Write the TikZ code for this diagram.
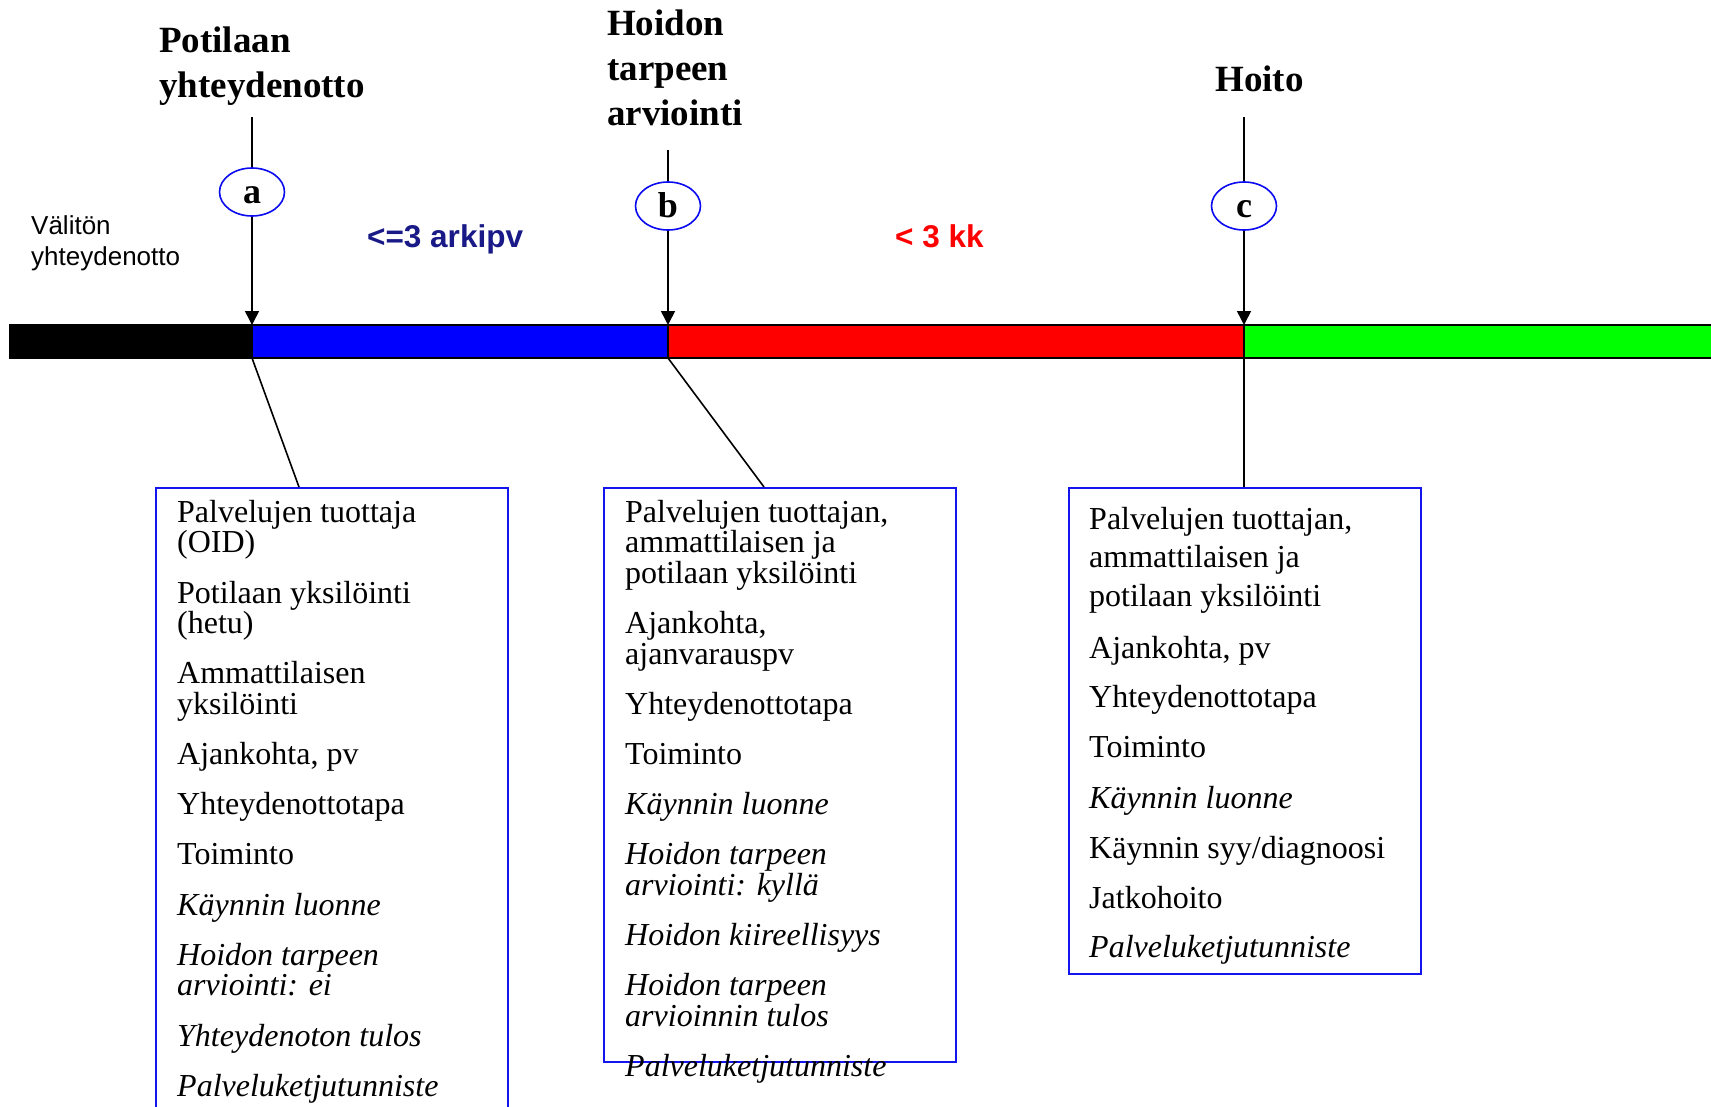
\documentclass[tikz,border=0pt]{standalone}
\usepackage{fontspec}
\setmainfont{Liberation Serif}
\setsansfont{Liberation Sans}
\usetikzlibrary{arrows.meta,shapes.geometric}

\definecolor{phaseblack}{RGB}{0,0,0}
\definecolor{phaseblue}{RGB}{0,0,255}
\definecolor{phasered}{RGB}{255,0,0}
\definecolor{phasegreen}{RGB}{0,255,0}
\definecolor{ringblue}{RGB}{10,10,240}
\definecolor{framblue}{RGB}{20,20,240}
\definecolor{navytext}{RGB}{25,25,135}

\tikzset{
  barpart/.style={draw=black, line width=2.6pt},
  headline/.style={anchor=base west, inner sep=0pt, font=\fontsize{37}{45}\selectfont\bfseries},
  letterring/.style={ellipse, draw=ringblue, line width=1.6pt, minimum width=65pt,
    minimum height=48pt, inner sep=0pt, text height=22pt, text depth=0pt,
    font=\fontsize{36}{36}\selectfont\bfseries},
  stem/.style={line width=1.6pt},
  stemarrow/.style={line width=1.6pt, -{Triangle[width=14pt,length=14pt]}},
  infobox/.style={draw=framblue, line width=2.4pt, anchor=north west, inner sep=0pt,
    minimum width=352pt},
  boxline/.style={anchor=base west, inner sep=0pt, font=\fontsize{32}{32}\selectfont},
  sidenote/.style={anchor=base west, inner sep=0pt, font=\sffamily\fontsize{26}{29}\selectfont},
  spanlabel/.style={anchor=base west, inner sep=0pt, font=\sffamily\bfseries\fontsize{31.5}{31.5}\selectfont}
}

\begin{document}
\begin{tikzpicture}[x=1pt,y=-1pt]
\useasboundingbox (0,0) rectangle (1711,1106);
\fill[white] (0,0) rectangle (1711,1106);

% timeline bar
\filldraw[barpart, fill=phaseblack] (10,325) rectangle (252,358);
\filldraw[barpart, fill=phaseblue] (252,325) rectangle (668,358);
\filldraw[barpart, fill=phasered] (668,325) rectangle (1244,358);
\filldraw[barpart, fill=phasegreen] (1244,325) rectangle (1725,358);

\coordinate (pa) at (252,325);
\coordinate (pb) at (668,325);
\coordinate (pc) at (1244,325);
\coordinate (qa) at (252,358);
\coordinate (qb) at (668,358);
\coordinate (qc) at (1244,358);

% headings
\node[headline] (ha1) at (159,52) {Potilaan};
\node[headline] (ha2) at (159,97) {yhteydenotto};
\node[headline] (hb1) at (607,35) {Hoidon};
\node[headline] (hb2) at (607,80) {tarpeen};
\node[headline] (hb3) at (607,125) {arviointi};
\node[headline] (hc1) at (1215,91) {Hoito};

% stems with lettered markers
\coordinate (ta) at (252,117);
\coordinate (tb) at (668,150);
\coordinate (tc) at (1244,117);
\node[letterring] (ca) at (252,192) {a};
\node[letterring] (cb) at (668,206) {b};
\node[letterring] (cc) at (1244,206) {c};
\draw[stem] (ta) -- (ca);
\draw[stem] (tb) -- (cb);
\draw[stem] (tc) -- (cc);
\draw[stemarrow] (ca) -- (pa);
\draw[stemarrow] (cb) -- (pb);
\draw[stemarrow] (cc) -- (pc);

% side labels
\node[sidenote] (v1) at (31,234) {Välitön};
\node[sidenote] (v2) at (31,265) {yhteydenotto};
\node[spanlabel, text=navytext] (s1) at (367,247) {<=3 arkipv};
\node[spanlabel, text=phasered] (s2) at (895,247) {< 3 kk};

% information boxes
\node[infobox, minimum height=640pt] (box1) at (155,487) {};
\node[infobox, minimum height=574pt] (box2) at (603,487) {};
\node[infobox, minimum height=486pt] (box3) at (1068,487) {};

\coordinate (ea) at (299,487);
\coordinate (eb) at (764,487);
\coordinate (ec) at (1244,487);
\draw[stem] (qa) -- (ea);
\draw[stem] (qb) -- (eb);
\draw[stem] (qc) -- (ec);

% box 1 contents
\node[boxline] (a01) at (177,522) {Palvelujen tuottaja};
\node[boxline] (a02) at (177,552) {(OID)};
\node[boxline] (a03) at (177,603) {Potilaan yksilöinti};
\node[boxline] (a04) at (177,633) {(hetu)};
\node[boxline] (a05) at (177,683) {Ammattilaisen};
\node[boxline] (a06) at (177,714) {yksilöinti};
\node[boxline] (a07) at (177,764) {Ajankohta, pv};
\node[boxline] (a08) at (177,814) {Yhteydenottotapa};
\node[boxline] (a09) at (177,864) {Toiminto};
\node[boxline] (a10) at (177,915) {\itshape Käynnin luonne};
\node[boxline] (a11) at (177,965) {\itshape Hoidon tarpeen};
\node[boxline] (a12) at (177,995) {\itshape arviointi: ei};
\node[boxline] (a13) at (177,1046) {\itshape Yhteydenoton tulos};
\node[boxline] (a14) at (177,1096) {\itshape Palveluketjutunniste};

% box 2 contents
\node[boxline] (b01) at (625,522) {Palvelujen tuottajan,};
\node[boxline] (b02) at (625,552) {ammattilaisen ja};
\node[boxline] (b03) at (625,583) {potilaan yksilöinti};
\node[boxline] (b04) at (625,633) {Ajankohta,};
\node[boxline] (b05) at (625,664) {ajanvarauspv};
\node[boxline] (b06) at (625,714) {Yhteydenottotapa};
\node[boxline] (b07) at (625,764) {Toiminto};
\node[boxline] (b08) at (625,814) {\itshape Käynnin luonne};
\node[boxline] (b09) at (625,864) {\itshape Hoidon tarpeen};
\node[boxline] (b10) at (625,895) {\itshape arviointi: kyllä};
\node[boxline] (b11) at (625,945) {\itshape Hoidon kiireellisyys};
\node[boxline] (b12) at (625,995) {\itshape Hoidon tarpeen};
\node[boxline] (b13) at (625,1026) {\itshape arvioinnin tulos};
\node[boxline] (b14) at (625,1076) {\itshape Palveluketjutunniste};

% box 3 contents
\node[boxline] (c01) at (1089,529) {Palvelujen tuottajan,};
\node[boxline] (c02) at (1089,567) {ammattilaisen ja};
\node[boxline] (c03) at (1089,606) {potilaan yksilöinti};
\node[boxline] (c04) at (1089,658) {Ajankohta, pv};
\node[boxline] (c05) at (1089,707) {Yhteydenottotapa};
\node[boxline] (c06) at (1089,757) {Toiminto};
\node[boxline] (c07) at (1089,808) {\itshape Käynnin luonne};
\node[boxline] (c08) at (1089,858) {Käynnin syy/diagnoosi};
\node[boxline] (c09) at (1089,908) {Jatkohoito};
\node[boxline] (c10) at (1089,957) {\itshape Palveluketjutunniste};
\end{tikzpicture}
\end{document}
